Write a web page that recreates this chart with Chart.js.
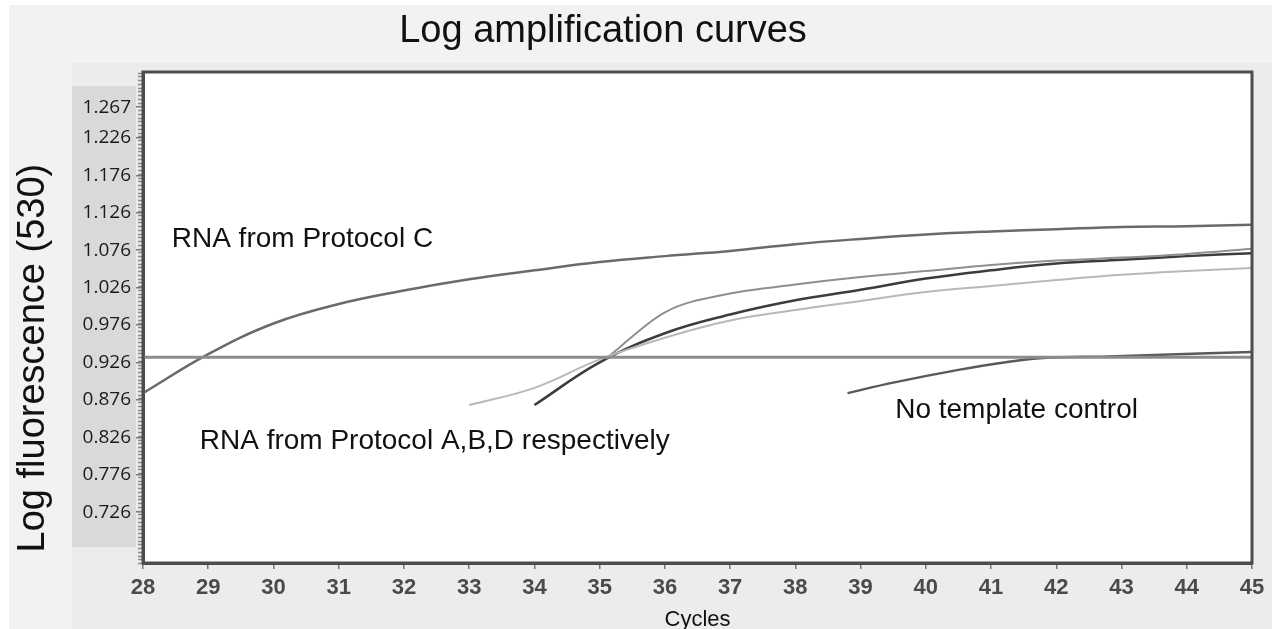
<!DOCTYPE html>
<html>
<head>
<meta charset="utf-8">
<script src="https://cdn.jsdelivr.net/npm/chart.js@4/dist/chart.umd.min.js"></script>
<style>
	body { margin:0; background:#fff; }
	#box { position:relative; width:1272px; height:629px; }
</style>
</head>
<body>
<div id="box"><canvas id="c"></canvas></div>
<script>
// values: cycle -> log fluorescence
const cyclesC = [28, 29, 30, 31, 32, 33, 34, 35, 36, 37, 38, 39, 40, 41, 42, 43, 44, 45]
const fluorC = [0.885, 0.937, 0.978, 1.004, 1.022, 1.037, 1.049, 1.060, 1.068, 1.075, 1.084, 1.091, 1.097, 1.101, 1.104, 1.107, 1.108, 1.110]

const cyclesA = [33, 34, 35, 36, 37, 38, 39, 40, 41, 42, 43, 44, 45]
const fluorA = [0.869, 0.892, 0.930, 0.959, 0.982, 0.996, 1.008, 1.020, 1.028, 1.036, 1.043, 1.048, 1.052]

const cyclesB = [34, 35, 36, 37, 38, 39, 40, 41, 42, 43, 44, 45]
const fluorB = [0.869, 0.926, 0.965, 0.990, 1.009, 1.023, 1.038, 1.049, 1.058, 1.063, 1.068, 1.072]

const cyclesD = [35.1, 36, 37, 38, 39, 40, 41, 42, 43, 44, 45]
const fluorD = [0.931, 0.993, 1.018, 1.030, 1.040, 1.048, 1.056, 1.062, 1.066, 1.071, 1.078]

const cyclesNtc = [38.8, 39.5, 40.5, 41.2, 41.8, 42.8, 43.5, 44.2, 45]
const fluorNtc = [0.885, 0.899, 0.916, 0.926, 0.932, 0.934, 0.936, 0.938, 0.940]

const thresholdCycles = [28, 45]
const threshold = 0.933

const yTicks = [0.726, 0.776, 0.826, 0.876, 0.926, 0.976, 1.026, 1.076, 1.126, 1.176, 1.226, 1.267]

// text written inside the plot: [text, cycle, fluorescence]
const notes = [
	['RNA from Protocol C', 28.44, 1.090],
	['RNA from Protocol A,B,D respectively', 28.87, 0.820],
	['No template control', 39.53, 0.862],
]

const pts = (xs, ys) => xs.map((x, i) => ({x: x, y: ys[i]}))

Chart.defaults.font.family = "'Liberation Sans', Arial, sans-serif"

const paper = {
	id: 'paper',
	beforeDraw: c => {
		const ctx = c.ctx, a = c.chartArea
		ctx.save()
		ctx.fillStyle = '#fff'
		ctx.fillRect(0, 0, c.width, c.height)
		ctx.fillStyle = '#f2f2f2'
		ctx.fillRect(9, 5, c.width - 9, c.height - 5)
		ctx.fillStyle = '#ececec'
		ctx.fillRect(72, a.top - 9, c.width - 72, c.height - a.top + 9)
		ctx.fillStyle = '#d9d9d9'
		ctx.fillRect(72, a.top + 14, 64, a.bottom - a.top - 30)
		ctx.fillStyle = '#fff'
		ctx.fillRect(a.left, a.top, a.right - a.left, a.bottom - a.top)
		//title
		ctx.fillStyle = '#111'
		ctx.font = "38px 'Liberation Sans'"
		ctx.textAlign = 'center'
		ctx.textBaseline = 'middle'
		ctx.fillText('Log amplification curves', 603, 32)
		ctx.restore()
	},
	afterDraw: c => {
		const ctx = c.ctx, a = c.chartArea, sx = c.scales.x, sy = c.scales.y
		ctx.save()
		//small ticks along the left side
		ctx.strokeStyle = '#8a8a8a'
		ctx.lineWidth = 1.5
		ctx.beginPath()
		for (let v = sy.min; v < sy.max; v += 0.005) {
			const y = Math.round(sy.getPixelForValue(v)) + 0.5
			ctx.moveTo(a.left - 5, y)
			ctx.lineTo(a.left, y)
		}
		ctx.stroke()
		//frame
		ctx.strokeStyle = '#4d4d4d'
		ctx.lineWidth = 3
		ctx.strokeRect(a.left, a.top, a.right - a.left, a.bottom - a.top)
		//notes
		ctx.fillStyle = '#111'
		ctx.font = "28px 'Liberation Sans'"
		ctx.textAlign = 'left'
		ctx.textBaseline = 'middle'
		notes.forEach(n => ctx.fillText(n[0], sx.getPixelForValue(n[1]), sy.getPixelForValue(n[2])))
		ctx.restore()
	}
}

new Chart(document.getElementById('c'), {
	type: 'line',
	data: {
		datasets: [
			{label: 'Threshold', data: pts(thresholdCycles, [threshold, threshold]), borderColor: '#8c8c8c', borderWidth: 3},
			{label: 'No template control', data: pts(cyclesNtc, fluorNtc), borderColor: '#5a5a5a', borderWidth: 2.5},
			{label: 'Protocol A', data: pts(cyclesA, fluorA), borderColor: '#b8b8b8', borderWidth: 2},
			{label: 'Protocol D', data: pts(cyclesD, fluorD), borderColor: '#8f8f8f', borderWidth: 2, cubicInterpolationMode: 'monotone'},
			{label: 'Protocol B', data: pts(cyclesB, fluorB), borderColor: '#3c3c3c', borderWidth: 2.5},
			{label: 'Protocol C', data: pts(cyclesC, fluorC), borderColor: '#6a6a6a', borderWidth: 2.5},
		]
	},
	options: {
		responsive: true,
		maintainAspectRatio: false,
		animation: false,
		layout: {padding: {top: 72, right: 20, left: 0, bottom: 0}},
		elements: {
			point: {radius: 0},
			line: {tension: 0.4, fill: false}
		},
		plugins: {
			legend: {display: false},
			tooltip: {enabled: false},
			title: {display: false}
		},
		scales: {
			x: {
				type: 'linear',
				min: 28,
				max: 45,
				afterFit: s => { s.height = 66 },
				ticks: {stepSize: 1, padding: 6, color: '#4a4a4a', font: {size: 22, weight: 'bold'}},
				grid: {drawOnChartArea: false, tickLength: 6, color: '#777', lineWidth: 1.5},
				border: {color: '#4d4d4d', width: 3},
				title: {display: true, text: 'Cycles', color: '#111', font: {size: 22, lineHeight: 1}, padding: {top: 0, bottom: -2}}
			},
			y: {
				type: 'linear',
				min: 0.658,
				max: 1.314,
				afterFit: s => { s.width = 143 },
				afterBuildTicks: s => { s.ticks = yTicks.map(v => ({value: v})) },
				ticks: {padding: 5, color: '#1a1a1a', font: {family: "'Open Sans'", size: 19}, callback: v => v.toFixed(3)},
				grid: {drawOnChartArea: false, tickLength: 7, color: '#777', lineWidth: 1.5},
				border: {color: '#4d4d4d', width: 3},
				title: {display: true, text: ' Log fluorescence (530)', align: 'start', color: '#111', font: {size: 38}, padding: {top: 11, bottom: 0}}
			}
		}
	},
	plugins: [paper]
})
</script>
</body>
</html>
